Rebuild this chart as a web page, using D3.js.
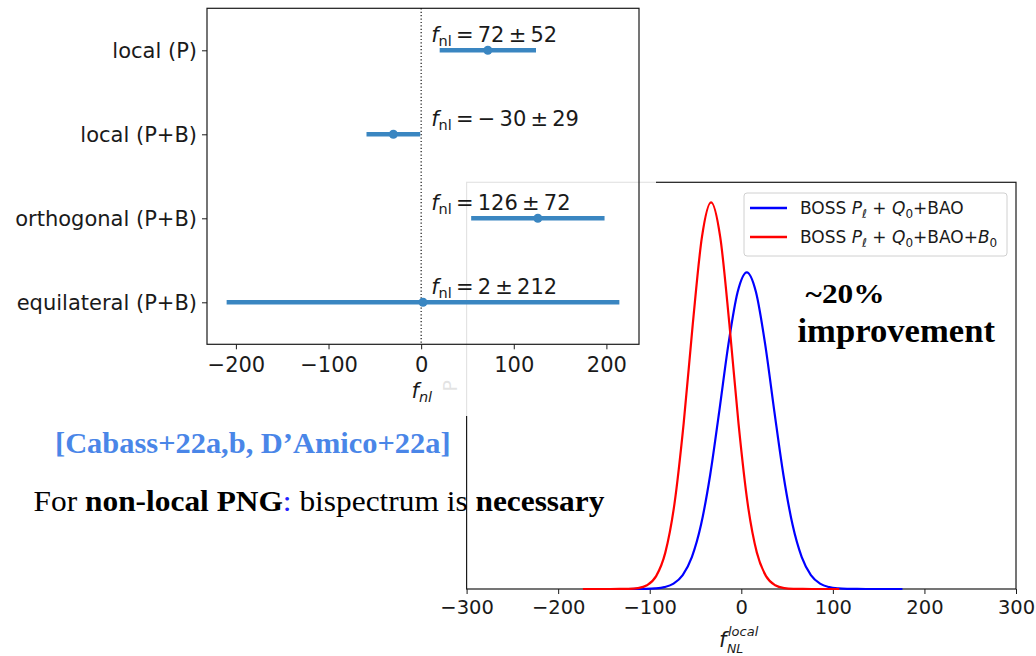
<!DOCTYPE html>
<html>
<head>
<meta charset="utf-8">
<script src="https://cdn.jsdelivr.net/npm/d3@7"></script>
<style>
  body { margin: 0; background: #fff; }
  svg { display: block; }
</style>
</head>
<body>
<svg id="slide" width="1036" height="656"></svg>
<script>
// left panel: f_nl constraints per template
const templates = ['local (P)', 'local (P+B)', 'orthogonal (P+B)', 'equilateral (P+B)'];
const fnlMean = [72, -30, 126, 2];
const fnlErr = [52, 29, 72, 212];
const leftTicks = [-200, -100, 0, 100, 200];

// right panel: 1D posteriors of f_NL^local (peak-normalised)
const blueFnl = [-164, -154, -144, -134, -124, -114, -104, -94, -84, -74, -64, -54, -44, -34, -24, -14, -4,
  6, 16, 26, 36, 46, 56, 66, 76, 86, 96, 106, 116, 126, 136, 146, 156, 166, 176];
const bluePost = [0, 0, 0, 0, 0.00002, 0.00008, 0.00036, 0.0014, 0.0047, 0.0138, 0.036, 0.0825, 0.166, 0.295, 0.461, 0.634, 0.768,
  0.819, 0.768, 0.634, 0.461, 0.295, 0.166, 0.0825, 0.036, 0.0138, 0.0047, 0.0014, 0.00036, 0.00008, 0.00002, 0, 0, 0, 0];
const redFnl = [-173, -163, -153, -143, -133, -123, -113, -103, -93, -83, -73, -63, -53, -43,
  -33, -23, -13, -3, 7, 17, 27, 37, 47, 57, 67, 77, 87, 97, 107];
const redPost = [0, 0, 0, 0.00001, 0.00008, 0.00047, 0.00236, 0.0097, 0.0333, 0.0941, 0.220, 0.427, 0.685, 0.910,
  1.0, 0.910, 0.685, 0.427, 0.220, 0.0941, 0.0333, 0.0097, 0.00236, 0.00047, 0.00008, 0.00001, 0, 0, 0];
const rightTicks = [-300, -200, -100, 0, 100, 200, 300];
const seriesColors = ['#0000ff', '#ff0000'];

const svg = d3.select('#slide');
const sans = 'DejaVu Sans';
const serif = 'Liberation Serif';
const ink = '#1a1a1a';

// ---------- right chart (sits underneath the left one) ----------
const xR = d3.scaleLinear().domain([-300, 300]).range([466.6, 1016]);
const yR = d3.scaleLinear().domain([0, 1.052]).range([589, 182.3]);

const right = svg.append('g').attr('class', 'right-chart');

right.append('rect')
  .attr('x', xR.range()[0]).attr('y', yR.range()[1])
  .attr('width', xR.range()[1] - xR.range()[0])
  .attr('height', yR.range()[0] - yR.range()[1])
  .attr('fill', 'none').attr('stroke', ink).attr('stroke-width', 1.2);

const xAxisR = right.append('g')
  .attr('transform', `translate(0, ${yR.range()[0]})`)
  .call(d3.axisBottom(xR).tickValues(rightTicks).tickSize(5).tickPadding(6));
xAxisR.select('.domain').remove();
xAxisR.selectAll('line').attr('stroke', ink);
xAxisR.selectAll('text').attr('font-family', sans).attr('font-size', 19.5).attr('fill', ink);

const line = d3.line()
  .x(d => xR(d[0]))
  .y(d => yR(d[1]))
  .curve(d3.curveMonotoneX);

right.append('path')
  .datum(d3.zip(blueFnl, bluePost))
  .attr('d', line)
  .attr('fill', 'none').attr('stroke', seriesColors[0]).attr('stroke-width', 2.2);
right.append('path')
  .datum(d3.zip(redFnl, redPost))
  .attr('d', line)
  .attr('fill', 'none').attr('stroke', seriesColors[1]).attr('stroke-width', 2.2);

// y label, mostly hidden under the left picture
right.append('text')
  .attr('transform', `translate(457, ${(yR.range()[0] + yR.range()[1]) / 2}) rotate(-90)`)
  .attr('text-anchor', 'middle')
  .attr('font-family', sans).attr('font-size', 19).attr('fill', ink)
  .text('P');

// x label f_NL^local
const xlabR = right.append('text')
  .attr('font-family', sans).attr('font-style', 'italic').attr('fill', ink);
xlabR.append('tspan').attr('x', 719).attr('y', 647).attr('font-size', 21).text('f');
xlabR.append('tspan').attr('x', 728).attr('y', 636).attr('font-size', 13).text('local');
xlabR.append('tspan').attr('x', 727).attr('y', 653).attr('font-size', 12.5).text('NL');

// legend
const legend = right.append('g');
legend.append('rect')
  .attr('x', 744).attr('y', 193).attr('width', 263).attr('height', 63).attr('rx', 3)
  .attr('fill', '#fff').attr('fill-opacity', 0.8).attr('stroke', '#d0d0d0');

function legendLabel(g, y, withB) {
  const t = g.append('text').attr('x', 800).attr('y', y)
    .attr('font-family', sans).attr('font-size', 17).attr('fill', ink);
  t.append('tspan').text('BOSS ');
  t.append('tspan').attr('font-style', 'italic').text('P');
  t.append('tspan').attr('font-style', 'italic').attr('font-size', 12).attr('dy', 4).text('\u2113');
  t.append('tspan').attr('dy', -4).text(' + ');
  t.append('tspan').attr('font-style', 'italic').text('Q');
  t.append('tspan').attr('font-size', 12).attr('dy', 4).text('0');
  t.append('tspan').attr('dy', -4).text(withB ? '+BAO+' : '+BAO');
  if (withB) {
    t.append('tspan').attr('font-style', 'italic').text('B');
    t.append('tspan').attr('font-size', 12).attr('dy', 4).text('0');
  }
}
[0, 1].forEach(i => {
  const y = 208 + i * 29;
  legend.append('line')
    .attr('x1', 750).attr('x2', 787).attr('y1', y).attr('y2', y)
    .attr('stroke', seriesColors[i]).attr('stroke-width', 2.5);
  legendLabel(legend, y + 6, i === 1);
});

// ---------- left picture pasted on top, slightly see-through ----------
svg.append('rect')
  .attr('x', 0).attr('y', 0).attr('width', 656).attr('height', 416)
  .attr('fill', '#fff').attr('fill-opacity', 0.88);

const xL = d3.scaleLinear().domain([-231.2, 235.2]).range([207, 639]);
const yL = d3.scalePoint().domain(templates).range([8.3, 344.3]).padding(0.5);
const barColor = '#3a86c1';

const left = svg.append('g').attr('class', 'left-chart');

left.append('rect')
  .attr('x', xL.range()[0]).attr('y', yL.range()[0])
  .attr('width', xL.range()[1] - xL.range()[0])
  .attr('height', yL.range()[1] - yL.range()[0])
  .attr('fill', 'none').attr('stroke', ink).attr('stroke-width', 1.2);

const xAxisL = left.append('g')
  .attr('transform', `translate(0, ${yL.range()[1]})`)
  .call(d3.axisBottom(xL).tickValues(leftTicks).tickSize(5).tickPadding(8));
xAxisL.select('.domain').remove();
xAxisL.selectAll('line').attr('stroke', ink);
xAxisL.selectAll('text').attr('font-family', sans).attr('font-size', 21).attr('fill', ink);

const yAxisL = left.append('g')
  .attr('transform', `translate(${xL.range()[0]}, 0)`)
  .call(d3.axisLeft(yL).tickSize(5).tickPadding(5));
yAxisL.select('.domain').remove();
yAxisL.selectAll('line').attr('stroke', ink);
yAxisL.selectAll('text').attr('font-family', sans).attr('font-size', 21).attr('fill', ink);

left.append('line')
  .attr('x1', xL(0)).attr('x2', xL(0))
  .attr('y1', yL.range()[0]).attr('y2', yL.range()[1])
  .attr('stroke', '#000').attr('stroke-width', 1.1).attr('stroke-dasharray', '1.2,2.2');

const rows = templates.map((name, i) => ({ name, mean: fnlMean[i], err: fnlErr[i] }));

left.selectAll('.errbar').data(rows).enter().append('line')
  .attr('class', 'errbar')
  .attr('x1', d => xL(d.mean - d.err)).attr('x2', d => xL(d.mean + d.err))
  .attr('y1', d => yL(d.name)).attr('y2', d => yL(d.name))
  .attr('stroke', barColor).attr('stroke-width', 4.6);

left.selectAll('.pt').data(rows).enter().append('circle')
  .attr('class', 'pt')
  .attr('cx', d => xL(d.mean)).attr('cy', d => yL(d.name)).attr('r', 4.5)
  .attr('fill', barColor);

// annotations in mathtext style: thin spaces around the operators
const thin = '\u2009';
rows.forEach(d => {
  const t = left.append('text')
    .attr('x', xL(0) + 10).attr('y', yL(d.name) - 8.5)
    .attr('font-family', sans).attr('font-size', 21).attr('fill', ink);
  t.append('tspan').attr('font-style', 'italic').text('f');
  t.append('tspan').attr('font-size', 14.5).attr('dy', 4).text('nl');
  const m = d.mean < 0 ? '\u2212' + thin + Math.abs(d.mean) : d.mean;
  t.append('tspan').attr('dy', -4).text(`${thin}=${thin}${m}${thin}\u00b1${thin}${d.err}`);
});

const xlabL = left.append('text')
  .attr('x', 411.5).attr('y', 398)
  .attr('font-family', sans).attr('font-style', 'italic').attr('fill', ink);
xlabL.append('tspan').attr('font-size', 21).text('f');
xlabL.append('tspan').attr('font-size', 14.5).attr('dy', 4).text('nl');

// ---------- slide text ----------
function fitText(x, y, width, build) {
  const g = svg.append('g').attr('transform', `translate(${x}, ${y})`);
  const t = g.append('text').attr('x', 0).attr('y', 0);
  build(t);
  const w = t.node().getComputedTextLength();
  t.attr('transform', `scale(${width / w}, 1)`);
  return t;
}

fitText(55, 453, 395.6, t => {
  t.attr('font-family', serif).attr('font-size', 29).attr('font-weight', 'bold')
    .attr('fill', '#4a86e8').text('[Cabass+22a,b, D\u2019Amico+22a]');
});

fitText(33.6, 511, 571, t => {
  t.attr('font-family', serif).attr('font-size', 30).attr('fill', '#000');
  t.append('tspan').text('For ');
  t.append('tspan').attr('font-weight', 'bold').text('non-local PNG');
  t.append('tspan').attr('fill', '#2222ff').text(':');
  t.append('tspan').text(' bispectrum is ');
  t.append('tspan').attr('font-weight', 'bold').text('necessary');
});

fitText(805.6, 303, 79, t => {
  t.attr('font-family', serif).attr('font-size', 28).attr('font-weight', 'bold')
    .attr('fill', '#000').text('~20%');
});

fitText(797.5, 341.7, 197.5, t => {
  t.attr('font-family', serif).attr('font-size', 33).attr('font-weight', 'bold')
    .attr('fill', '#000').text('improvement');
});
</script>
</body>
</html>
